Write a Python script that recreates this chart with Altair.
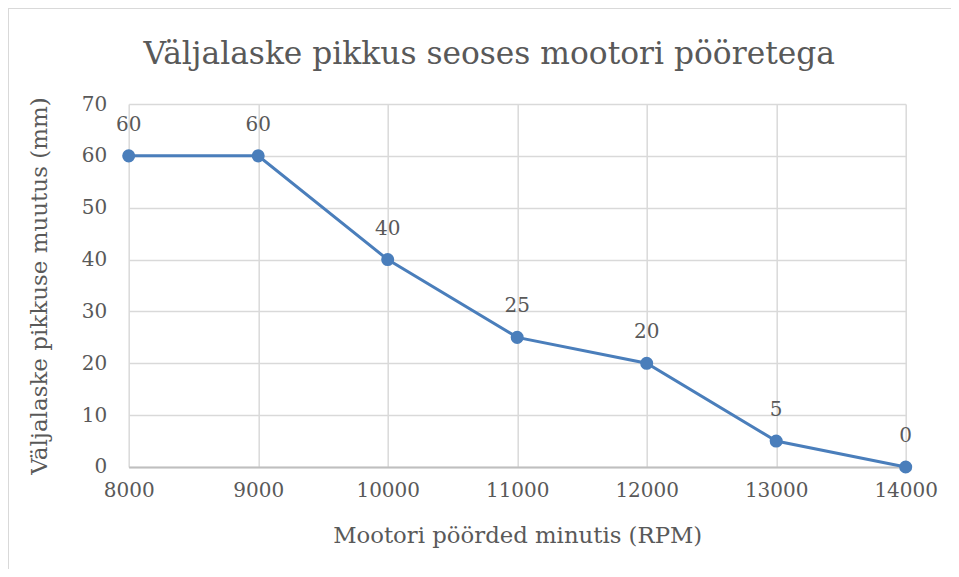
import altair as alt
import pandas as pd

rpm = [8000, 9000, 10000, 11000, 12000, 13000, 14000]
length_mm = [60, 60, 40, 25, 20, 5, 0]

df = pd.DataFrame({"rpm": rpm, "len": length_mm})

FONT = "DejaVu Serif"
TXT = "#595959"
BLUE = "#4a7ebb"

x = alt.X("rpm:Q", scale=alt.Scale(domain=[8000, 14000], nice=False),
          axis=alt.Axis(values=rpm, title="Mootori pöörded minutis (RPM)", format="d",
                        ticks=False, domain=True, domainColor="#bfbfbf", domainWidth=2,
                        labelFlush=False, labelOverlap=False,
                        labelPadding=14, titlePadding=24, labelFontSize=20, titleFontSize=22.8,
                        gridColor="#d9d9d9", gridWidth=1.5))
y = alt.Y("len:Q", scale=alt.Scale(domain=[0, 70], nice=False),
          axis=alt.Axis(values=[0, 10, 20, 30, 40, 50, 60, 70], title="Väljalaske pikkuse muutus (mm)",
                        ticks=False, domain=False, labelPadding=22, titlePadding=30,
                        labelFlush=False, labelOverlap=False,
                        labelFontSize=20, titleFontSize=23,
                        gridColor="#d9d9d9", gridWidth=1.5))

border = alt.Chart(df).mark_rect(fill=None, stroke="#d9d9d9", strokeWidth=1.5, clip=False).encode(
    x=alt.value(-120.5), x2=alt.value(900), y=alt.value(-96), y2=alt.value(500)
)

line = alt.Chart(df).mark_line(color=BLUE, strokeWidth=3).encode(x=x, y=y)
pts = alt.Chart(df).mark_circle(color=BLUE, size=170, opacity=1).encode(x=x, y=y)
labels = alt.Chart(df).mark_text(font=FONT, fontSize=20, color=TXT, dy=-31).encode(
    x=x, y=y, text=alt.Text("len:Q")
)

chart = alt.layer(border, line, pts, labels).properties(
    width=777, height=363,
    autosize=alt.AutoSizeParams(type="none"),
    padding={"left": 120.7, "top": 96, "right": 45, "bottom": 102},
    title=alt.TitleParams("Väljalaske pikkus seoses mootori pööretega", font=FONT, fontSize=31.3,
                          fontWeight="normal", color=TXT, anchor="middle", frame="group",
                          dx=-28, offset=0, dy=63),
).configure_view(stroke=None).configure_axis(
    labelFont=FONT, titleFont=FONT, labelColor=TXT, titleColor=TXT, titleFontWeight="normal"
)

chart.save("out.html", embed_options={"renderer": "svg", "actions": False})
